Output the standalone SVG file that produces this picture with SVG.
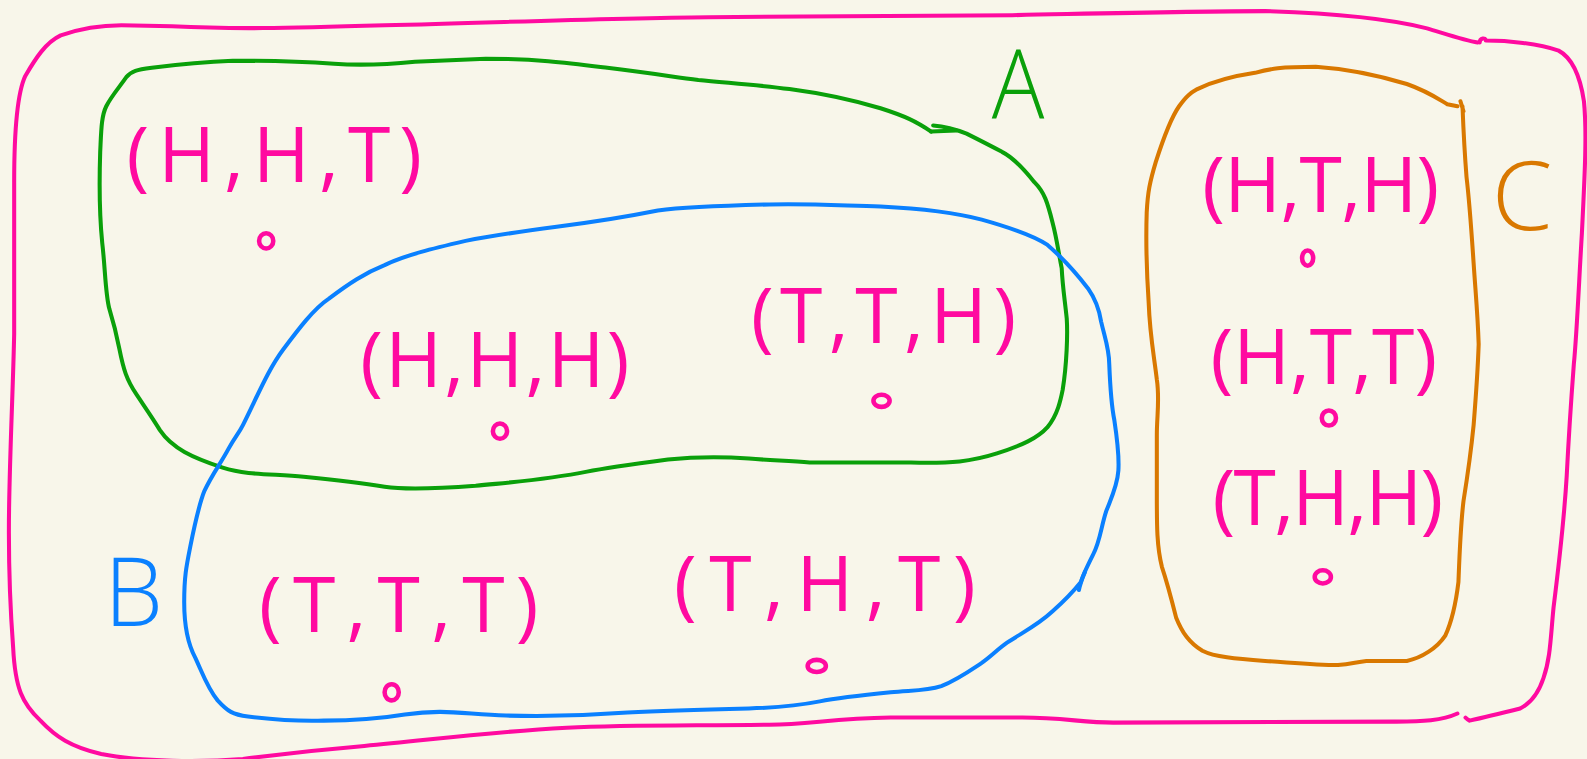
<svg xmlns="http://www.w3.org/2000/svg" width="1587" height="759" viewBox="0 0 1587 759">
<style>
.loop{fill:none;stroke-linecap:round;stroke-linejoin:round;stroke-width:4}
.pink{stroke:#ff0aa0}
.green{stroke:#0aa00a}
.blue{stroke:#0a80ff}
.orange{stroke:#d97800}
.t{font-family:"Open Sans","Liberation Sans",sans-serif;font-weight:400;font-size:76px;fill:#ff0aa0}
.lbl{font-family:"Open Sans","Liberation Sans",sans-serif;font-weight:300;font-size:94px}
.dot{fill:none;stroke:#ff0aa0;stroke-width:4.5}
</style>
<rect width="1587" height="759" fill="#f8f6ea"/>
<g transform="scale(1.0121)">
<g id="sample-space">
<path class="loop pink" d="M1440,705 C1425,712 1405,713 1380,713 L1100,714 C1070,714 1050,709 1010,709 L880,709 C820,710 800,716 760,716 C680,717 620,716 560,719 C470,724 420,732 360,737 C300,742 270,746 240,750 C200,753 140,753 100,745 C70,738 55,728 40,712 C22,695 15,680 13,640 C10,600 8,560 9,500 C10,440 13,380 14,330 L14,180 C14,120 18,90 25,75 C35,58 45,42 60,35 C80,28 100,25 120,25 L170,26 C230,29 280,28 380,25 C500,22 600,18 700,17 C800,16 900,15 1000,15 C1100,13 1180,11 1250,11 C1320,13 1370,18 1410,28 C1430,34 1448,40 1460,42"/>
<path class="loop pink" d="M1462,42 C1462,37 1468,37 1468,40 C1490,40 1520,43 1540,50 C1555,58 1562,80 1565,100 C1568,130 1566,170 1563,230 C1560,280 1558,330 1555,360 C1552,400 1550,430 1548,470 C1545,520 1540,560 1535,600 C1532,630 1532,650 1525,670 C1520,685 1512,695 1502,700 C1490,703 1470,708 1452,712 C1450,711 1449,710 1448,709"/>
</g>
<g id="set-A">
<path class="loop green" d="M920,130 C905,120 895,115 870,107 C840,98 810,92 780,88 C750,84 720,82 690,79 C660,75 640,72 600,67 C560,62 530,58 480,58 L410,61 C380,64 360,65 330,63 C300,61 260,60 230,60 C200,61 180,63 150,67 C135,69 130,70 125,76 C118,86 110,95 105,105 C100,115 100,130 99,150 C98,180 98,210 101,240 C104,265 104,290 108,305 C112,318 115,330 118,345 C122,365 125,375 135,390 C145,405 150,412 158,425 C170,443 190,452 220,462 C245,470 270,468 300,471 C330,474 350,476 380,481 C400,484 430,483 470,480 C510,476 540,474 580,466 C600,462 630,458 660,454 C690,451 710,451 740,453 C760,455 780,455 800,457 L900,457 C940,458 960,456 985,448 C1010,440 1025,433 1035,422 C1045,410 1048,395 1050,385 C1054,360 1055,330 1054,315 C1052,295 1050,285 1049,265 C1046,250 1044,235 1040,220 C1035,200 1032,190 1022,180 C1010,165 1000,155 990,150 C975,142 965,137 955,132 C945,128 935,125 922,124"/>
<path class="loop green" d="M920,130 L945,129"/>
<text class="lbl" x="980" y="117" fill="#0aa00a" textLength="52" lengthAdjust="spacingAndGlyphs">A</text>
</g>
<g id="set-B">
<path class="loop blue" d="M240,420 C255,390 265,365 280,345 C295,325 310,305 325,295 C345,280 360,270 380,262 C400,252 430,245 460,238 C490,232 520,228 550,224 C590,219 620,214 650,208 C680,204 720,203 760,202 C800,201 830,203 870,204 C910,206 940,209 970,217 C995,224 1020,232 1035,242 C1050,255 1065,272 1075,285 C1082,295 1086,305 1088,318 C1092,335 1096,345 1096,360 C1097,385 1098,400 1101,415 C1104,435 1106,450 1105,465 C1104,480 1098,492 1093,505 C1088,520 1087,535 1080,548 C1075,558 1070,568 1068,575 C1060,585 1050,595 1040,604 C1025,618 1010,625 995,635 C985,642 980,648 970,655 C955,665 945,672 930,678 C915,683 900,682 880,684 C850,687 830,689 810,693 C790,697 770,699 740,700 C700,701 660,702 620,704 C580,707 540,708 500,707 C460,706 440,700 400,706 C370,711 350,712 320,712 C290,713 270,711 245,708 C230,706 225,703 215,692 C205,680 200,665 193,650 C185,635 182,615 182,595 C182,570 184,560 188,540 C192,520 196,500 202,485 C210,468 218,458 226,443 C232,432 236,428 240,420"/>
<path class="loop blue" d="M1072,565 C1069,572 1067,578 1066,583"/>
<text class="lbl" x="103" y="619" fill="#0a80ff" textLength="58" lengthAdjust="spacingAndGlyphs">B</text>
</g>
<g id="set-C">
<path class="loop orange" d="M1183,88 C1200,80 1220,75 1240,72 C1255,68 1265,66 1300,66 C1330,68 1360,74 1390,83 C1410,90 1420,97 1430,103 L1440,105 M1443,100 L1446,110 M1445,105 C1446,130 1447,150 1449,175 C1452,200 1454,230 1456,260 C1458,290 1460,310 1461,340 C1460,370 1458,395 1456,420 C1453,450 1450,470 1446,495 C1443,520 1442,550 1441,575 C1438,600 1434,615 1428,628 C1420,640 1405,650 1390,653 L1350,653 C1340,654 1335,656 1322,657 C1300,657 1280,655 1250,653 C1220,651 1200,649 1188,643 C1175,635 1168,625 1162,610 C1157,590 1153,575 1148,560 C1143,540 1143,520 1143,490 L1143,430 C1143,410 1146,395 1143,375 C1140,350 1136,330 1135,300 C1133,270 1132,240 1133,210 C1134,190 1136,180 1142,160 C1150,135 1158,115 1165,105 C1172,95 1176,92 1183,88"/>
<text class="lbl" x="1474" y="227" fill="#d97800" textLength="60" lengthAdjust="spacingAndGlyphs">C</text>
</g>
<g id="outcome-HHT">
<text class="t" x="125" y="180" textLength="292" lengthAdjust="spacing">(H,H,T)</text>
<ellipse class="dot" cx="263" cy="238" rx="7" ry="7.5"/>
</g>
<g id="outcome-HHH">
<text class="t" x="356" y="382" textLength="266" lengthAdjust="spacing">(H,H,H)</text>
<ellipse class="dot" cx="494" cy="426" rx="7" ry="7.5"/>
</g>
<g id="outcome-TTH">
<text class="t" x="742" y="339" textLength="262" lengthAdjust="spacing">(T,T,H)</text>
<ellipse class="dot" cx="871" cy="396" rx="8" ry="6"/>
</g>
<g id="outcome-THT">
<text class="t" x="666" y="604" textLength="298" lengthAdjust="spacing">(T,H,T)</text>
<ellipse class="dot" cx="807" cy="658" rx="9" ry="6"/>
</g>
<g id="outcome-TTT">
<text class="t" x="256" y="624" textLength="276" lengthAdjust="spacing">(T,T,T)</text>
<ellipse class="dot" cx="387" cy="684" rx="7" ry="8"/>
</g>
<g id="outcome-HTH">
<text class="t" x="1188" y="209" textLength="234" lengthAdjust="spacing">(H,T,H)</text>
<ellipse class="dot" cx="1292" cy="255" rx="5.5" ry="7.5"/>
</g>
<g id="outcome-HTT">
<text class="t" x="1196" y="379" textLength="224" lengthAdjust="spacing">(H,T,T)</text>
<ellipse class="dot" cx="1313" cy="413" rx="7" ry="7.5"/>
</g>
<g id="outcome-THH">
<text class="t" x="1198" y="519" textLength="228" lengthAdjust="spacing">(T,H,H)</text>
<ellipse class="dot" cx="1307" cy="570" rx="8" ry="6.5"/>
</g>
<g id="connectors"/>
</g>
</svg>
